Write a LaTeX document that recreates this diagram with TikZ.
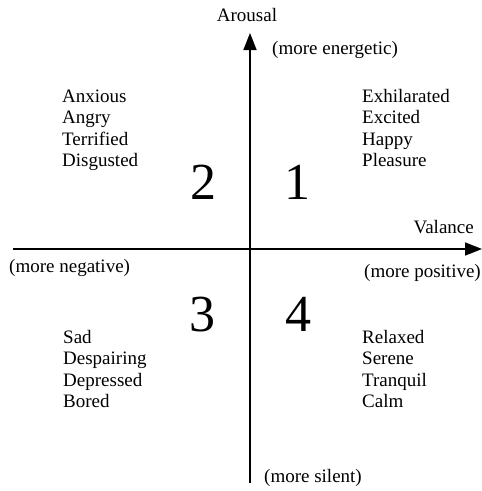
\documentclass[tikz,border=0pt]{standalone}
\usepackage{fontspec}
\setmainfont{Liberation Serif}
\usetikzlibrary{arrows.meta}
\begin{document}
\begin{tikzpicture}[x=1pt,y=-1pt,
  axis/.style={line width=1.7pt,-{Triangle[length=17pt,width=13pt]}},
  lbl/.style={inner sep=0pt,font=\fontsize{19}{21.5}\selectfont},
  wordlist/.style={lbl,align=left,anchor=base west},
  quad/.style={inner sep=0pt,anchor=base,font=\fontsize{52}{60}\selectfont}]
\useasboundingbox (0,0) rectangle (482,491);
\coordinate (vbot) at (250,483);
\coordinate (vtop) at (250,33);
\coordinate (hleft) at (13,249);
\coordinate (hright) at (482,249);
\draw[axis] (vbot) -- (vtop);
\draw[axis] (hleft) -- (hright);
\node[lbl,anchor=base] (arousal) at (247,21) {Arousal};
\node[lbl,anchor=base west] (energetic) at (272,54) {(more energetic)};
\node[lbl,anchor=base east] (valance) at (474,233) {Valance};
\node[lbl,anchor=base west] (negative) at (9,272) {(more negative)};
\node[lbl,anchor=base west] (positive) at (364,277) {(more positive)};
\node[lbl,anchor=base west] (silent) at (264,482) {(more silent)};
% anchor "base" of a multi-line node is the baseline of its last line
\node[wordlist] (q2words) at (62,166.5) {Anxious\\Angry\\Terrified\\Disgusted};
\node[wordlist] (q1words) at (362,166.5) {Exhilarated\\Excited\\Happy\\Pleasure};
\node[wordlist] (q3words) at (63,407.5) {Sad\\Despairing\\Depressed\\Bored};
\node[wordlist] (q4words) at (362,407.5) {Relaxed\\Serene\\Tranquil\\Calm};
\node[quad] (n2) at (203,199) {2};
\node[quad] (n1) at (297,199) {1};
\node[quad] (n3) at (202,331) {3};
\node[quad] (n4) at (298,331) {4};
\end{tikzpicture}
\end{document}
